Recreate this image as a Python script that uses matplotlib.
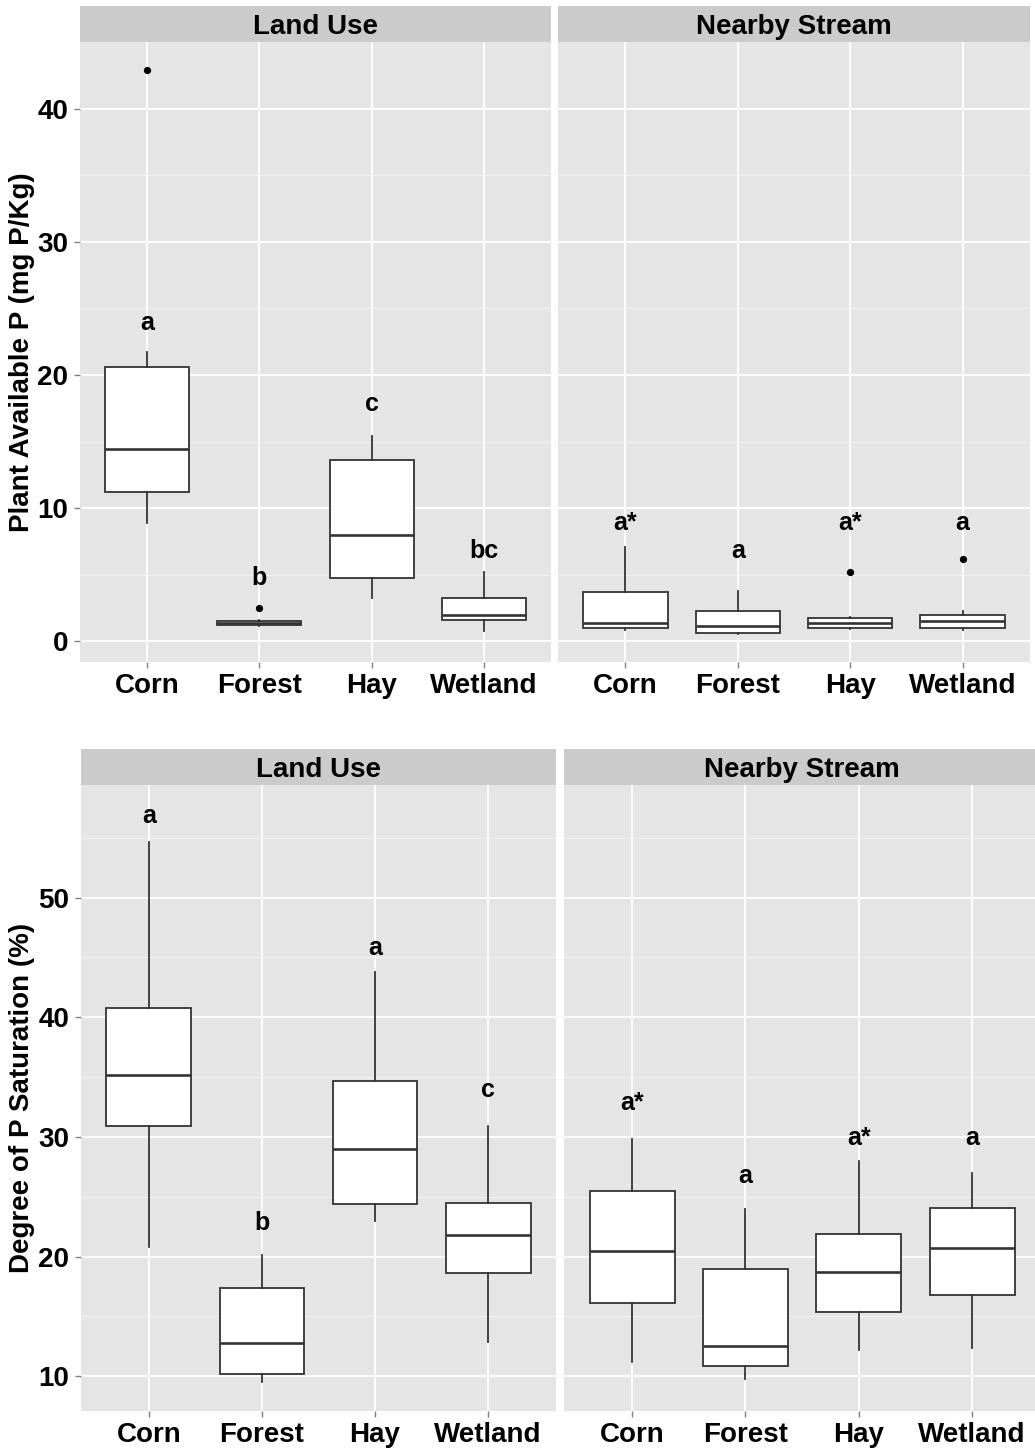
import matplotlib
matplotlib.use("Agg")
import matplotlib.pyplot as plt
from matplotlib.ticker import MultipleLocator

plt.rcParams['font.family'] = ['Liberation Sans', 'DejaVu Sans']

# ---------------- data ----------------
categories = ["Corn", "Forest", "Hay", "Wetland"]

# Plant Available P (mg P/Kg) - Land Use
pap_land_whislo = [8.9, 1.15, 3.3, 0.76]
pap_land_q1 = [11.2, 1.25, 4.76, 1.62]
pap_land_med = [14.45, 1.4, 8.0, 1.97]
pap_land_q3 = [20.6, 1.55, 13.6, 3.24]
pap_land_whishi = [21.7, 1.65, 15.4, 5.24]
pap_land_out = [[42.9], [2.55], [], []]
pap_land_letters = ["a", "b", "c", "bc"]
pap_land_letter_y = [23.9, 4.8, 17.8, 6.8]

# Plant Available P (mg P/Kg) - Nearby Stream
pap_stream_whislo = [0.86, 0.55, 0.95, 0.86]
pap_stream_q1 = [1.0, 0.62, 1.03, 1.03]
pap_stream_med = [1.38, 1.17, 1.38, 1.55]
pap_stream_q3 = [3.7, 2.3, 1.8, 1.97]
pap_stream_whishi = [7.1, 3.8, 1.85, 2.3]
pap_stream_out = [[], [], [5.2], [6.2]]
pap_stream_letters = ["a*", "a", "a*", "a"]
pap_stream_letter_y = [8.9, 6.8, 8.9, 8.9]

# Degree of P Saturation (%) - Land Use
dps_land_whislo = [20.8, 9.5, 23.0, 12.9]
dps_land_q1 = [30.9, 10.15, 24.4, 18.6]
dps_land_med = [35.2, 12.8, 29.0, 21.8]
dps_land_q3 = [40.8, 17.4, 34.7, 24.5]
dps_land_whishi = [54.6, 20.1, 43.8, 30.9]
dps_land_out = [[], [], [], []]
dps_land_letters = ["a", "b", "a", "c"]
dps_land_letter_y = [56.8, 22.8, 45.8, 33.9]

# Degree of P Saturation (%) - Nearby Stream
dps_stream_whislo = [11.2, 9.8, 12.2, 12.4]
dps_stream_q1 = [16.1, 10.9, 15.4, 16.8]
dps_stream_med = [20.5, 12.5, 18.7, 20.7]
dps_stream_q3 = [25.5, 19.0, 21.9, 24.1]
dps_stream_whishi = [29.85, 24.0, 28.0, 27.0]
dps_stream_out = [[], [], [], []]
dps_stream_letters = ["a*", "a", "a*", "a"]
dps_stream_letter_y = [32.8, 26.7, 29.9, 29.9]

facet_titles = ["Land Use", "Nearby Stream"]
y_titles = ["Plant Available P (mg P/Kg)", "Degree of P Saturation (%)"]

# ---------------- layout ----------------
W, H = 1035, 1449
fig = plt.figure(figsize=(W / 100, H / 100), dpi=100)

def px_axes(x0, x1, y0, y1):
    return fig.add_axes([x0 / W, 1 - y1 / H, (x1 - x0) / W, (y1 - y0) / H])

PANEL_BG = "#E5E5E5"
STRIP_BG = "#CBCBCB"
EDGE = "#333333"

def make_stats(lo, q1, med, q3, hi, out):
    return [dict(whislo=lo[i], q1=q1[i], med=med[i], q3=q3[i], whishi=hi[i], fliers=out[i])
            for i in range(len(lo))]

def draw_panel(rect, strip_rect, title, stats, letters, letter_y, ylim, major, minor_start, show_yticks):
    ax = px_axes(*rect)
    ax.set_facecolor(PANEL_BG)
    for s in ax.spines.values():
        s.set_visible(False)
    ax.set_xlim(0.4, 4.6)
    ax.set_ylim(*ylim)
    ax.yaxis.set_major_locator(MultipleLocator(major))
    # minor gridlines at midpoints
    mids = []
    v = minor_start
    while v < ylim[1]:
        if v > ylim[0]:
            mids.append(v)
        v += major
    for m in mids:
        ax.axhline(m, color="#F2F2F2", lw=0.8, zorder=0.5)
    ax.grid(True, which="major", axis="both", color="white", lw=1.3, zorder=0.6)
    ax.set_axisbelow(True)
    pos = list(range(1, len(categories) + 1))
    ax.bxp(stats, positions=pos, widths=0.75, showcaps=False, patch_artist=True,
           boxprops=dict(facecolor="white", edgecolor=EDGE, linewidth=1.3),
           medianprops=dict(color=EDGE, linewidth=1.9),
           whiskerprops=dict(color=EDGE, linewidth=1.3),
           flierprops=dict(marker="o", markerfacecolor="black", markeredgecolor="black",
                           markersize=4.2, linestyle="none"),
           zorder=3)
    ax.set_xticks(pos)
    ax.set_xticklabels(categories, fontsize=20, fontweight="bold", color="black")
    ax.tick_params(axis="x", length=4.3, width=1.0, color="#808080", pad=3.5)
    ax.tick_params(axis="y", which="major", length=4.3, width=1.0, color="#808080", pad=4.0)
    ax.tick_params(axis="y", which="minor", length=0)
    if show_yticks:
        for lab in ax.get_yticklabels():
            lab.set_fontsize(20)
            lab.set_fontweight("bold")
            lab.set_color("black")
    else:
        ax.tick_params(axis="y", which="major", length=0, labelleft=False)
    for p, t, yv in zip(pos, letters, letter_y):
        ax.text(p, yv, t, ha="center", va="center", fontsize=18, fontweight="bold",
                color="black", zorder=4)
    # strip
    sx = px_axes(*strip_rect)
    sx.set_facecolor(STRIP_BG)
    sx.set_xticks([])
    sx.set_yticks([])
    for s in sx.spines.values():
        s.set_visible(False)
    sx.text(0.5, 0.42, title, ha="center", va="center", fontsize=20, fontweight="bold",
            color="black", transform=sx.transAxes)
    return ax

top_ylim = (-1.54, 45.0)
bot_ylim = (7.1, 59.4)

draw_panel((80, 551, 42, 662), (80, 551, 6, 42), facet_titles[0],
           make_stats(pap_land_whislo, pap_land_q1, pap_land_med, pap_land_q3, pap_land_whishi, pap_land_out),
           pap_land_letters, pap_land_letter_y, top_ylim, 10, 5, True)
draw_panel((558, 1030, 42, 662), (558, 1030, 6, 42), facet_titles[1],
           make_stats(pap_stream_whislo, pap_stream_q1, pap_stream_med, pap_stream_q3, pap_stream_whishi, pap_stream_out),
           pap_stream_letters, pap_stream_letter_y, top_ylim, 10, 5, False)
draw_panel((81, 556, 785, 1411), (81, 556, 749, 785), facet_titles[0],
           make_stats(dps_land_whislo, dps_land_q1, dps_land_med, dps_land_q3, dps_land_whishi, dps_land_out),
           dps_land_letters, dps_land_letter_y, bot_ylim, 10, 15, True)
draw_panel((564, 1040, 785, 1411), (564, 1040, 749, 785), facet_titles[1],
           make_stats(dps_stream_whislo, dps_stream_q1, dps_stream_med, dps_stream_q3, dps_stream_whishi, dps_stream_out),
           dps_stream_letters, dps_stream_letter_y, bot_ylim, 10, 15, False)

fig.text(22 / W, 1 - 352 / H, y_titles[0], rotation=90, ha="center", va="center",
         fontsize=20, fontweight="bold", color="black")
fig.text(22 / W, 1 - 1098 / H, y_titles[1], rotation=90, ha="center", va="center",
         fontsize=20, fontweight="bold", color="black")

fig.savefig("out.png", dpi=100, facecolor="white")
